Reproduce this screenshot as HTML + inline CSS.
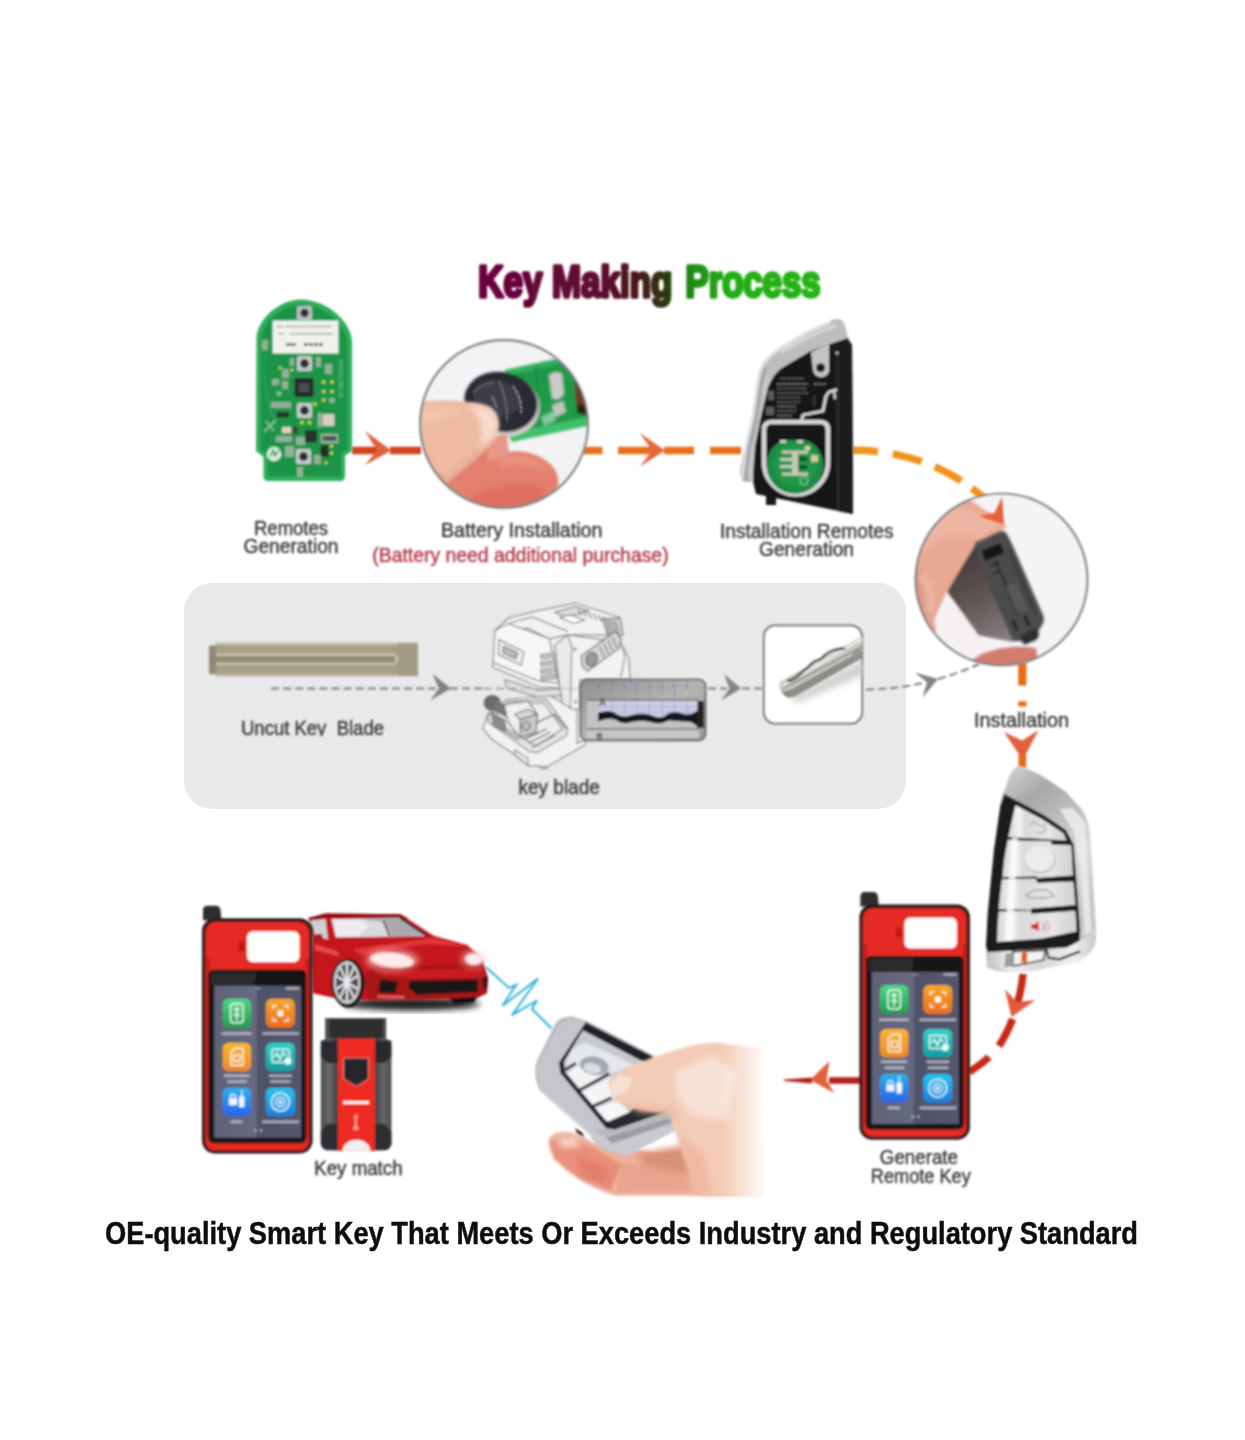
<!DOCTYPE html>
<html>
<head>
<meta charset="utf-8">
<title>Key Making Process</title>
<style>
html,body{margin:0;padding:0;background:#fff;}
body{width:1245px;height:1440px;overflow:hidden;font-family:"Liberation Sans",sans-serif;}
svg{display:block;}
text{font-family:"Liberation Sans",sans-serif;}
.lbl{font-size:19.5px;fill:#3c3c3c;stroke:#3c3c3c;stroke-width:0.45px;text-anchor:start;}
</style>
</head>
<body>
<svg width="1245" height="1440" viewBox="0 0 1245 1440">
<defs>
  <filter id="b1" x="-5%" y="-5%" width="110%" height="110%"><feGaussianBlur stdDeviation="0.85"/></filter>
  <filter id="b0" x="-5%" y="-5%" width="110%" height="110%"><feGaussianBlur stdDeviation="0.5"/></filter>
  <filter id="b2" x="-10%" y="-10%" width="120%" height="120%"><feGaussianBlur stdDeviation="1.5"/></filter>
  <filter id="b3" x="-20%" y="-20%" width="140%" height="140%"><feGaussianBlur stdDeviation="3"/></filter>
  <filter id="b6" x="-30%" y="-30%" width="160%" height="160%"><feGaussianBlur stdDeviation="6"/></filter>
  <linearGradient id="gKM" gradientUnits="userSpaceOnUse" x1="476" y1="0" x2="822" y2="0">
    <stop offset="0" stop-color="#6c0440"/><stop offset="0.36" stop-color="#5e0a30"/><stop offset="0.47" stop-color="#4a1a1c"/><stop offset="0.55" stop-color="#2c3a10"/><stop offset="0.62" stop-color="#1f8a14"/><stop offset="0.72" stop-color="#24ac12"/><stop offset="1" stop-color="#28b414"/>
  </linearGradient>
</defs>
<rect width="1245" height="1440" fill="#ffffff"/>

<!-- GRAYBOX -->
<rect x="184" y="583" width="722" height="226" rx="28" ry="28" fill="#e9e9e9"/>

<!-- TITLE -->
<g id="title" filter="url(#b1)" stroke-linejoin="round">
  <text x="478.300" y="297" font-size="44" font-weight="bold" fill="url(#gKM)" stroke="url(#gKM)" stroke-width="3.6" textLength="194" lengthAdjust="spacingAndGlyphs">Key Making</text>
  <text x="685.500" y="297" font-size="44" font-weight="bold" fill="url(#gKM)" stroke="url(#gKM)" stroke-width="3.6" textLength="135" lengthAdjust="spacingAndGlyphs">Process</text>
</g>

<!-- LABELS -->
<g id="labels" filter="url(#b1)">
  <clipPath id="cpU"><rect x="230" y="710" width="170" height="26"/></clipPath>
  <text class="lbl" x="254.0" y="534.6" textLength="74.0" lengthAdjust="spacingAndGlyphs">Remotes</text>
  <text class="lbl" x="243.5" y="553.0" textLength="95.0" lengthAdjust="spacingAndGlyphs">Generation</text>
  <text class="lbl" x="441.0" y="537.3" textLength="161.4" lengthAdjust="spacingAndGlyphs">Battery Installation</text>
  <text class="lbl" x="372.3" y="562.0" textLength="296.3" lengthAdjust="spacingAndGlyphs" style="fill:#b43c4a;stroke:#b43c4a">(Battery need additional purchase)</text>
  <text class="lbl" x="720.0" y="538.3" textLength="173.5" lengthAdjust="spacingAndGlyphs">Installation Remotes</text>
  <text class="lbl" x="759.0" y="556.4" textLength="95.0" lengthAdjust="spacingAndGlyphs">Generation</text>
  <text class="lbl" x="241.0" y="734.8" textLength="143.0" lengthAdjust="spacingAndGlyphs" clip-path="url(#cpU)" xml:space="preserve">Uncut Key  Blade</text>
  <text class="lbl" x="518.5" y="793.6" textLength="81.3" lengthAdjust="spacingAndGlyphs">key blade</text>
  <text class="lbl" x="974.0" y="727.0" textLength="95.0" lengthAdjust="spacingAndGlyphs">Installation</text>
  <text class="lbl" x="314.2" y="1174.5" textLength="88.4" lengthAdjust="spacingAndGlyphs">Key match</text>
  <text class="lbl" x="879.8" y="1164.2" textLength="78.2" lengthAdjust="spacingAndGlyphs">Generate</text>
  <text class="lbl" x="870.8" y="1183.3" textLength="100.0" lengthAdjust="spacingAndGlyphs">Remote Key</text>
</g>

<!-- BOTTOM -->
<g id="bottom" filter="url(#b0)">
  <text x="105" y="1243.500" font-size="31" font-weight="bold" fill="#0e0e0e" stroke="#0e0e0e" stroke-width="0.5" textLength="1033" lengthAdjust="spacingAndGlyphs">OE-quality Smart Key That Meets Or Exceeds Industry and Regulatory Standard</text>
</g>

<!-- ARROWS -->
<g id="arrows" filter="url(#b1)">
  <!-- a1: pcb -> circle1 -->
  <path d="M352 450.5H378M390 450.5H421" stroke="#d3421a" stroke-width="7.4" fill="none"/>
  <path d="M365 431L391.5 450.5L365 465L377 450.5Z" fill="#e2613a"/>
  <!-- a2: circle1 -> keyback -->
  <path d="M583 450.5H602.5M618 450.5H652M664 450.5H694M710 450.5H741" stroke="#e8701c" stroke-width="7.4" fill="none"/>
  <path d="M640 433L665 450.5L640 466.5L652 450.5Z" fill="#e6663a"/>
  <!-- a3: curve keyback -> circle2 -->
  <path d="M853 450.3C900 450 950 465 992 505" stroke="#f0931c" stroke-width="7.4" fill="none" stroke-dasharray="25 15 30 14 30 13 40 200"/>
  <!-- a5: vertical below circle2 -->
  <path d="M1022.3 662V685.5M1022.3 701.3V706.5" stroke="#ea6c16" stroke-width="8.2" fill="none"/>
  <path d="M1022.3 748V768" stroke="#e8661a" stroke-width="7.6" fill="none"/>
  <path d="M1004 732L1022.3 740.5L1038.6 730L1026.5 753L1018 753Z" fill="#e2603e"/>
  <!-- a6: dark red curve keyfront -> device -->
  <path d="M1023 974C1022 985 1020 994 1017.5 1003" stroke="#c62c16" stroke-width="7.4" fill="none"/>
  <path d="M1012.5 1019C1009 1029 1004 1038 999 1046" stroke="#c62c16" stroke-width="7.4" fill="none"/>
  <path d="M989 1057C984 1062 977 1067 969 1072" stroke="#c62c16" stroke-width="7.4" fill="none"/>
  <path d="M1005 989.5L1017 1002L1035.5 1000L1011.5 1017Z" fill="#e05a3c"/>
  <!-- a7: device -> left -->
  <path d="M862 1080.5H829" stroke="#b5241a" stroke-width="6.4" fill="none"/>
  <path d="M829.5 1061L810 1080L834.5 1093L826.5 1080.5Z" fill="#e2603e"/>
  <path d="M812 1077.5L784 1079.5L784 1081L812 1083.5Z" fill="#b5241a"/>
  <!-- gray dashes -->
  <g stroke="#7e7e7e" stroke-width="2.1" fill="none" stroke-dasharray="8 4.1">
    <path d="M271 688.5H436"/>
    <path d="M450 688.5H484"/>
    <path d="M708 688.5H727M742 688.5H763"/>
    <path d="M866 689.5C890 689 908 686.5 925 682.5"/>
    <path d="M938 679C952 675 966 670 979 664"/>
  </g>
  <g fill="#838383">
    <path d="M432.5 674L451 688.5L430 700.5L439 688.5Z"/>
    <path d="M724 674L741 688.5L721 700.5L729.5 688.5Z"/>
    <path d="M915 672.5L938 679L922.5 697.5L927 682.5Z"/>
  </g>
</g>
<!-- PCB -->
<g id="pcb" filter="url(#b1)">
  <path d="M256.5 338C257 322 276 300 301 299.5C328 300 351 322 352 341V451L345 455.5V476Q345 481 340 481H268Q263.5 481 263.5 476V457L256 451Z" fill="#2fae5c"/>
  <path d="M260.5 340C262 324 280 304.5 301 304C324 304.5 346 324 347.5 342V449L341 453V473Q341 476.5 337 476.5H271Q267.5 476.5 267.5 473V455L260.5 449.5Z" fill="#1b9446"/>
  <path d="M266 352C262 380 268 420 286 440" stroke="#2aa556" stroke-width="1.2" fill="none"/>
  <rect x="272.5" y="320.5" width="66" height="33" fill="#f1f1ee"/>
  <g stroke="#8a8a8a" stroke-width="1.6" fill="none">
    <path d="M277 326.5H283M286 326.5H331" stroke-dasharray="3 1.2"/>
    <path d="M279 334H284M290 334H333" stroke-dasharray="2.5 1"/>
    <path d="M286 344.5H296" stroke="#666" stroke-width="2.4"/>
    <path d="M304 344.5H324" stroke="#555" stroke-width="2.6" stroke-dasharray="4 1"/>
  </g>
  <g>
    <rect x="297" y="306" width="15" height="14" rx="1.5" fill="#b9bfc0"/><circle cx="304.5" cy="313" r="4.2" fill="#2b2d2e"/>
    <rect x="297" y="356" width="15" height="15" rx="1.5" fill="#c3c9c8"/><circle cx="304.5" cy="363.5" r="4.4" fill="#2b2d2e"/>
    <rect x="297" y="403" width="15" height="15" rx="1.5" fill="#c3c9c8"/><circle cx="304.5" cy="410.5" r="4.4" fill="#2b2d2e"/>
    <rect x="296" y="449" width="15" height="15" rx="1.5" fill="#c3c9c8"/><circle cx="303.5" cy="456.5" r="4.4" fill="#2b2d2e"/>
  </g>
  <rect x="294.5" y="378" width="19" height="19" rx="1" fill="#26292a"/>
  <rect x="299" y="383" width="10" height="9" fill="#4a4d4e"/>
  <rect x="305" y="430" width="12" height="12.5" fill="#26302c"/>
  <rect x="320.5" y="445.5" width="8" height="11.5" fill="#222a26"/>
  <rect x="277" y="412" width="12" height="5.5" fill="#28302c"/>
  <rect x="322.5" y="414" width="12" height="12" rx="1" fill="#d9ccc0"/>
  <rect x="318" y="413" width="4" height="14" fill="#9ab0a0"/>
  <rect x="282" y="427" width="9" height="6" fill="#e0d2c2"/>
  <rect x="293" y="426" width="5" height="8" fill="#3a463e"/>
  <rect x="321" y="434" width="17" height="9" fill="#9fb3a6"/>
  <rect x="322.5" y="436" width="14" height="5" fill="#4a5a50"/>
  <g fill="#8fb09a">
    <rect x="282" y="369" width="7" height="9"/><rect x="282" y="381" width="6" height="8"/>
    <rect x="272" y="379" width="7" height="6"/><rect x="290" y="358" width="4" height="8"/>
    <rect x="316" y="357" width="5" height="10"/><rect x="325" y="364" width="7" height="10"/>
    <rect x="271" y="402" width="20" height="6"/><rect x="276" y="436" width="16" height="6"/>
    <rect x="285" y="446" width="9" height="11"/><rect x="296" y="437" width="9" height="8"/>
    <rect x="297" y="467" width="6" height="10"/><rect x="314" y="455" width="7" height="9"/>
    <rect x="262" y="340" width="6" height="10"/>
  </g>
  <g fill="#d8dc52">
    <circle cx="323.7" cy="382" r="1.7"/><circle cx="332" cy="382" r="1.7"/>
    <circle cx="323.7" cy="391.5" r="1.7"/><circle cx="332" cy="391.5" r="1.7"/>
    <circle cx="323.7" cy="400" r="1.7"/><circle cx="315" cy="404" r="1.7"/>
    <circle cx="302" cy="422.5" r="1.7"/><circle cx="309.5" cy="422.5" r="1.7"/>
    <circle cx="331.5" cy="446" r="1.6"/><circle cx="331.5" cy="453" r="1.6"/><circle cx="326" cy="463" r="1.6"/>
    <circle cx="292" cy="370" r="1.4"/><circle cx="280" cy="368" r="1.4"/>
  </g>
  <circle cx="332" cy="400.5" r="3" fill="#7fb894"/>
  <circle cx="279" cy="393.5" r="2.6" fill="#7fb894"/>
  <circle cx="274" cy="454" r="7.2" fill="#dff0e6"/>
  <path d="M270 457L273 450L275 456L278.5 450" stroke="#2c9c54" stroke-width="1.6" fill="none"/>
  <path d="M264 432L276 420M266 421L274 431" stroke="#7fc09a" stroke-width="2" fill="none"/>
  <text x="0" y="0" font-size="5" fill="#8cd0a4" transform="translate(339,360) rotate(90)">DU0101_BM_V2</text>
</g>
<!-- CIRCLE1 -->
<clipPath id="cp1"><circle cx="504" cy="424" r="84"/></clipPath>
<g id="circle1">
  <circle cx="504" cy="424" r="84" fill="#f3f3f5"/>
  <g clip-path="url(#cp1)">
    <g filter="url(#b2)">
      <!-- green board -->
      <path d="M505 370L556 359L592 372L592 424L512 441L506 432Z" fill="#1f9a48"/>
      <path d="M510 433L592 416V425L512 442Z" fill="#3fbf6a"/>
      <path d="M505 371L556 360L559 364L508 375Z" fill="#2fb45c"/>
      <path d="M536 366L538 420" stroke="#178a3c" stroke-width="2" fill="none"/>
      <!-- silver clip -->
      <path d="M549 375Q556 370 562 374L564 394Q558 402 552 398Z" fill="#c9cbc9"/>
      <path d="M552 405L563 401L566 412L555 417Z" fill="#bfc6c0"/>
      <path d="M541 417L553 411L556 420L544 426Z" fill="#9fd0b0" opacity="0.8"/>
      <!-- brown comp -->
      <path d="M574 380L590 384V416L577 412Z" fill="#6e3424"/>
      <path d="M577 404L590 408V416L577 413Z" fill="#2a1c18"/>
      <!-- battery -->
      <ellipse cx="502.5" cy="405" rx="37.5" ry="31.5" transform="rotate(12 502.5 405)" fill="#d0d0d0"/>
      <ellipse cx="501" cy="402" rx="37" ry="30" transform="rotate(12 501 402)" fill="#2c2c33"/>
      <ellipse cx="497" cy="398" rx="24" ry="17" transform="rotate(18 497 398)" fill="#3d3d46"/>
    </g>
    <g filter="url(#b1)" fill="none" stroke="#8c8c98" stroke-width="1.6">
      <path d="M499 381C504 392 508 408 507 422" stroke-dasharray="3 1.5"/>
      <path d="M513 386C519 394 522 404 521 413" stroke-dasharray="4 1.2" stroke="#a0a0aa" stroke-width="2"/>
      <path d="M474 392C480 386 488 383 495 382" stroke-dasharray="2 2"/>
      <path d="M492 396L497 408" />
    </g>
    <g filter="url(#b2)">
      <!-- lower finger -->
      <path d="M428 486C452 466 476 444 500 444C506 448 508 450 510 452C530 449 552 460 557 474C562 492 552 512 520 520L428 520Z" fill="#e4806f"/>
      <path d="M488 436L507 434L509 454L488 462Z" fill="#e89886"/>
    </g>
    <g filter="url(#b3)">
      <path d="M470 496C495 484 528 480 546 488C544 506 520 514 480 516Z" fill="#df6e62"/>
      <path d="M500 456C520 452 544 460 552 472C540 466 520 462 500 466Z" fill="#ea9484"/>
    </g>
    <g filter="url(#b2)">
      <!-- thumb -->
      <path d="M414 402C440 399 476 400 490 407C500 414 501 428 495 438C484 454 466 468 448 482C438 488 426 482 418 474L410 440Z" fill="#eebaa2"/>
    </g>
    <g filter="url(#b3)">
      <path d="M468 405C488 405 500 414 497 428C494 438 486 446 478 449C485 436 483 417 468 405Z" fill="#f7ddd0"/>
      <path d="M420 410C440 406 458 408 468 414C452 414 434 418 420 426Z" fill="#f2c6b0"/>
      <path d="M416 444C426 464 438 476 450 479C440 487 426 484 418 472Z" fill="#e6a08a"/>
      <path d="M448 480C466 466 482 452 492 440" stroke="#d88a76" stroke-width="2" fill="none"/>
    </g>
  </g>
  <circle cx="504" cy="424" r="84" fill="none" stroke="#8d8d8f" stroke-width="2.4" filter="url(#b1)"/>
</g>
<!-- KEYBACK -->
<g id="keyback">
  <defs>
    <linearGradient id="gSil" x1="0" y1="0" x2="1" y2="0"><stop offset="0" stop-color="#9c9c9c"/><stop offset="0.35" stop-color="#e4e4e4"/><stop offset="0.7" stop-color="#c4c4c4"/><stop offset="1" stop-color="#a8a8a8"/></linearGradient>
  </defs>
  <g filter="url(#b1)">
    <!-- silver outer -->
    <path d="M840 319.5Q845 321 846.5 333L852 345V513.5L756 493.5L753 482L742.5 481Q740 476 740.5 470L745 446L752 416L756 388Q758 370 764 361Q772 352 781 346.5L807.5 331L831 320.5Q836 318.5 840 319.5Z" fill="#c8c8c8"/>
    <path d="M742.5 481Q740 476 740.5 470L745 446L752 416L756 388Q758 370 764 361L770 366Q764 376 762 392L758 420L751 450L748 474L750 482Z" fill="#a8a8a8"/>
    <path d="M764 361Q772 352 781 346.5L807.5 331L831 320.5Q836 318.5 840 319.5Q845 321 846.5 333L847 338L810.5 351L781 368.5L770 380Z" fill="#bdbdbd"/>
    <path d="M742 479L746 447L753 417L757 389Q759 371 765 362Q772 353.500 781.500 348L808 332.500L831 322" stroke="#e2e2e2" stroke-width="2.600" fill="none"/>
    <path d="M781 352L808 337L836 325.500" stroke="#d4d4d4" stroke-width="4" fill="none"/>
    <!-- black body -->
    <path d="M847.5 338L852 345L853 514L756 494L753 482L753 474L755 446L761 416L768 387.5Q772 376 781 368.5L810.5 351Z" fill="#141414"/>
    <path d="M832 346L847.5 338L852 345L853 514L838 511Z" fill="#1c1c1c"/>
    <path d="M838 350V510" stroke="#2a2a2a" stroke-width="2.5"/>
    <rect x="766" y="494" width="10" height="11" fill="#181818"/>
    <!-- silver clip -->
    <path d="M811 352L829 344V372Q826 378 820 377Q814 376 813 370Z" fill="#c4c4c6"/>
    <circle cx="820.6" cy="367.8" r="4.6" fill="#1b1b1b"/>
    <circle cx="837" cy="353" r="1.6" fill="#c8c8c8"/>
    <!-- wire -->
    <path d="M837 389.5L829 392L826 396L823 411L805 414.5Q802 415 802 419V424" stroke="#d9d9dc" stroke-width="2.8" fill="none" stroke-linejoin="round"/>
    <path d="M834 391L835 399" stroke="#d9d9dc" stroke-width="2.2" fill="none"/>
    <!-- ring -->
    <path d="M764 430Q764 422 772 422H820Q828 422 828 430V462.5A32 32 0 0 1 764 462.5Z" fill="none" stroke="#d6d6d8" stroke-width="4.6"/>
    <!-- green pcb -->
    <path d="M771 450Q777 441 786 440H804Q813 441 819 450A28.5 28.5 0 1 1 771 450Z" fill="#1e8c44"/>
    <circle cx="795" cy="464.5" r="22" fill="#22964a"/>
    <path d="M780 440h6v3h-6zM797 440h6v3h-6z" fill="#cfcfcf"/>
    <g fill="#c8c6b4">
      <rect x="792" y="452" width="6" height="23"/>
      <rect x="782" y="450.5" width="26" height="3.2"/>
      <rect x="782" y="472.5" width="26" height="3.2"/>
      <rect x="780" y="458" width="13" height="3"/><rect x="780" y="465" width="13" height="3"/>
    </g>
    <g fill="#12502a"><rect x="799" y="457" width="8" height="4"/><rect x="799" y="465" width="8" height="4"/></g>
    <rect x="811" y="455" width="7" height="7" fill="#d2c896"/>
    <rect x="805" y="446" width="5" height="4" fill="#d2d8a0"/>
    <circle cx="804" cy="481" r="4" fill="none" stroke="#8fd0a6" stroke-width="1"/>
    <!-- text lines -->
    <g stroke="#6a6a6a" stroke-width="1.6" fill="none">
      <path d="M780 378.5H804" stroke-dasharray="3 0.8"/>
      <path d="M777 384H808M814 384H826" stroke="#808080" stroke-dasharray="4 1"/>
      <path d="M777 388.5H807" stroke-dasharray="2 0.7"/>
      <path d="M777 393H808" stroke-dasharray="3 1"/>
      <path d="M777 397.5H800" stroke-dasharray="2.5 1"/>
      <path d="M777 402H800" stroke-dasharray="3 1"/>
      <path d="M777 406.5H796"/>
      <path d="M777 411H796" stroke-dasharray="3 1"/>
      <path d="M777 415.5H792"/>
      <path d="M814 396V406" stroke="#555" stroke-dasharray="2 1"/>
    </g>
    <g fill="#5c5c5c"><rect x="768" y="391" width="6" height="9"/><rect x="766" y="407" width="8" height="8"/></g>
  </g>
</g>
<!-- CIRCLE2 -->
<clipPath id="cp2"><circle cx="1001.5" cy="579.5" r="86"/></clipPath>
<g id="circle2">
  <defs>
    <linearGradient id="gSide" gradientUnits="userSpaceOnUse" x1="960" y1="560" x2="1000" y2="645"><stop offset="0" stop-color="#4a3c3c"/><stop offset="0.5" stop-color="#635858"/><stop offset="1" stop-color="#8a8084"/></linearGradient>
  </defs>
  <circle cx="1001.5" cy="579.5" r="86" fill="#f5f3f5"/>
  <g clip-path="url(#cp2)">
    <g filter="url(#b2)">
      <!-- hand -->
      <path d="M905 490L958 490C975 505 995 515 1007 527L976 547L947 591L935 618L936 632L905 640Z" fill="#e8a892"/>
      <!-- tissue -->
      <path d="M934 620L950 600L985 640L975 658L940 640Z" fill="#f6f1f1"/>
      <!-- bottom finger -->
      <path d="M972 660C985 650 1010 644 1036 648L1040 680L965 680Z" fill="#d27c6e"/>
      <!-- key side -->
      <path d="M975 545L947 591.5L978.5 635.5L1014 642L1000 600Z" fill="url(#gSide)"/>
      <!-- key front face -->
      <path d="M974.5 546Q974 542 978 540L1000 531Q1005 530 1008 536L1012 544L1043.5 616Q1045 622 1041 627L1038 631Q1036 640 1028 642L1018 641L1013 641L980 565Z" fill="#4b4b4d"/>
      <path d="M1020 636L1036 628Q1042 634 1036 640L1024 645Z" fill="#2e2e30"/>
    </g>
    <g filter="url(#b3)">
      <path d="M915 520C940 500 975 505 1000 524L980 540C960 530 935 535 915 560Z" fill="#eeb6a2"/>
      <path d="M910 560C925 570 932 590 930 615L910 640Z" fill="#e19884"/>
      <path d="M920 575C930 585 932 600 928 612" stroke="#f2c8b8" stroke-width="4" fill="none"/>
    </g>
    <g filter="url(#b1)">
      <path d="M982 551L1000.500 543.500L1003.500 553L985.500 560.500Z" fill="#121214"/>
      <path d="M995 560L1004 580L1012 600L1019 616" stroke="#303032" stroke-width="2" fill="none"/>
      <path d="M1008 548L1018 572L1030 600L1036 614" stroke="#343436" stroke-width="1.6" fill="none"/>
      <path d="M1006 586L1016 583L1028 610L1018 614Z" fill="#58585a"/>
      <path d="M990 566L999 563M993 574L1001 571" stroke="#2a2a2c" stroke-width="1.8"/>
      <path d="M1013 620L1017 630M1025 616L1029 626" stroke="#222" stroke-width="2.6"/>
    </g>
  </g>
  <circle cx="1001.5" cy="579.5" r="86" fill="none" stroke="#8a8a8c" stroke-width="2.2" filter="url(#b1)"/>
  <path d="M1002 497L994.500 513L979 516L1004 524.500Z" fill="#e6603a" filter="url(#b1)"/>
</g>
<!-- BLADE -->
<g id="blade" filter="url(#b1)">
  <defs><linearGradient id="gBl" x1="0" y1="0" x2="0" y2="1"><stop offset="0" stop-color="#c9c3b2"/><stop offset="0.12" stop-color="#a9a18a"/><stop offset="0.5" stop-color="#9e9680"/><stop offset="0.88" stop-color="#a8a08a"/><stop offset="1" stop-color="#c4bdac"/></linearGradient></defs>
  <path d="M216 642.500H418V676.500H216V674.500H212Q209 674.500 209 671V648.500Q209 645 212 645H216Z" fill="url(#gBl)"/>
  <rect x="209" y="646" width="7" height="28" rx="2" fill="#8f8873"/>
  <path d="M216 654.500H395" stroke="#d2ccb9" stroke-width="2"/>
  <path d="M216 663.800H395" stroke="#cfc9b6" stroke-width="2"/>
  <rect x="216" y="656" width="179" height="6.500" fill="#948c76"/>
  <path d="M395 654L400 659L395 664.500Z" fill="#c8c2b0"/>
  <rect x="398" y="643" width="20" height="33" fill="#a39b85"/>
</g>
<!-- MACHINE -->
<g id="machine" filter="url(#b1)">
<g stroke="#868686" stroke-width="1.2" fill="#f2f2f2" stroke-linejoin="round">
<path d="M483.0 728.9L487.6 714.3L506.8 699.7L549.2 695.7L577.1 710.3L577.1 743.4L586.3 739.5L585.0 744.8L547.2 766.6L528.0 765.3L514.8 754.7L492.2 739.5Z"/>
<path d="M514.8 754.7L514.8 750.1L528.0 758.0L528.0 765.3Z" fill="#ececec"/>
<path d="M539.9 766.6L541.3 768.6L547.2 768.4L547.9 766.2" fill="none"/>
<path d="M487.6 716.3L508.1 701.7L546.6 699.7L567.8 728.9L566.5 735.5L537.3 752.7L529.3 751.4L488.3 722.2Z" fill="#e4e4e4"/>
<path d="M492.2 716.9L509.5 705.0L543.9 703.0L562.5 728.9L536.0 746.1L493.6 720.9Z" fill="#ededed"/>
<path d="M549.2 638.7L567.8 634.8L620.8 642.7L628.7 658.6L630.1 679.8L579.7 679.8L579.7 709.0L570.4 709.0L559.8 687.8Z"/>
<path d="M620.8 677.2L624.8 657.3L622.1 645.4" fill="none"/>
<path d="M567.8 634.8L571.8 646.7L570.4 707.7L562.5 703.7L559.8 687.8L554.5 645.4Z" fill="#e9e9e9"/>
<path d="M504.8 679.8L538.6 690.4L559.8 688.4L561.1 695.7L537.3 697.1L506.8 687.8Z" fill="#dedede"/>
<path d="M494.9 630.8L508.1 618.2L532.0 612.2L575.7 603.2L619.5 617.5L622.8 634.8L612.8 634.8L567.8 634.8L549.2 638.7L528.0 628.1Z"/>
<path d="M554.5 612.2L575.7 606.3L589.0 610.9L566.5 617.5Z" fill="#dadada"/>
<path d="M559.8 617.5L570.4 614.9L585.0 620.2L573.1 623.5Z" fill="#fbfbfb"/>
<path d="M494.9 630.8L508.1 623.5L549.2 638.7L559.8 687.8L538.6 686.5L492.9 667.2Z" fill="#f6f6f6"/>
<path d="M492.9 662.6L538.6 681.1L558.5 683.1" fill="none"/>
<path d="M508.1 623.5L532.0 616.9L567.8 631.4" fill="none"/>
<path d="M498.9 639.4L524.0 652.0L521.4 665.2L498.2 654.6Z" fill="#ececec"/>
<path d="M503.5 646.0L517.4 652.7L516.1 658.6L502.8 652.7Z" fill="#bcbcbc" stroke="#777"/>
</g>
<g fill="#c2c2c2" stroke="#808080" stroke-width="0.9">
<path d="M540.6 654.6L555.8 652.7L556.5 657.0L541.0 659.0Z"/>
<path d="M540.6 661.9L555.8 659.9L556.5 664.3L541.0 666.3Z"/>
<path d="M540.6 669.2L555.8 667.2L556.5 671.6L541.0 673.6Z"/>
<path d="M540.6 676.1L555.8 674.1L556.5 678.5L541.0 680.5Z"/>
</g>
<g stroke="#7a7a7a" stroke-width="1.3" fill="none">
<path d="M578.4 608.9L581.3 615.5"/>
<path d="M583.4 610.4L586.3 617.0"/>
<path d="M588.5 611.8L591.4 618.5"/>
<path d="M593.5 613.3L596.4 619.9"/>
<path d="M598.5 614.7L601.4 621.4"/>
<path d="M603.6 616.2L606.5 622.8"/>
<path d="M608.6 617.7L611.5 624.3"/>
<path d="M613.6 619.1L616.6 625.7"/>
<path d="M618.7 620.6L621.6 627.2"/>
</g>
<path d="M602.2 618.9L620.1 618.2L622.8 634.8L608.9 638.7Z" fill="#d2d2d2" stroke="#7a7a7a" stroke-width="1.2"/>
<g stroke="#707070" stroke-width="1.2" fill="none"><path d="M605.6 619.5L610.2 637.4"/><path d="M608.9 619.8L613.1 637.0"/><path d="M612.2 620.0L616.0 636.6"/><path d="M615.5 620.3L618.9 636.2"/></g>
<path d="M581.0 656.0L615.5 631.4L620.8 638.7L619.5 648.0L587.7 671.2L582.4 666.6Z" fill="#d6d6d6" stroke="#777" stroke-width="1.3"/>
<g stroke="#777" stroke-width="1.1" fill="none"><path d="M599.6 646.0L604.2 657.3"/><path d="M603.8 643.1L608.5 654.1"/><path d="M608.1 640.2L612.7 650.9"/><path d="M612.3 637.3L616.9 647.8"/></g>
<ellipse cx="591.6" cy="659.3" rx="5.6" ry="7" fill="#9a9a9a" stroke="#666" stroke-width="1.2" transform="rotate(20 591.6 659.3)"/>
<circle cx="575.1" cy="649.1" r="1.6" fill="#777"/>
<circle cx="575.7" cy="701.7" r="1.6" fill="#888"/>
<ellipse cx="492.2" cy="703.0" rx="8.5" ry="8" fill="#6c6c6c"/>
<path d="M494.9 699.7L509.5 707.7L508.1 718.3L494.9 711.6Z" fill="#777"/>
<path d="M490.9 711.6L505.5 719.6L506.8 732.8L492.2 726.2Z" fill="#8a8a8a"/>
<path d="M504.2 705.0L528.0 701.0L537.3 714.3L536.0 732.8L520.1 737.5L508.1 722.2Z" fill="#efefef" stroke="#6e6e6e" stroke-width="1.2"/>
<path d="M514.8 714.3L528.0 709.0L537.3 714.3L520.1 719.6Z" fill="#d8d8d8" stroke="#6e6e6e" stroke-width="1.1"/>
<path d="M520.1 719.6L537.3 714.3L536.0 732.8L520.1 737.5Z" fill="#c9c9c9" stroke="#6e6e6e" stroke-width="1.1"/>
<circle cx="526.0" cy="726.2" r="4.2" fill="#bdbdbd" stroke="#666" stroke-width="1.2"/>
<g stroke="#7c7c7c" stroke-width="1.5" fill="none">
<path d="M524.0 739.5L546.6 728.9"/>
<path d="M528.0 743.4L550.5 732.2"/>
<path d="M532.0 747.4L554.5 735.5"/>
<path d="M537.3 722.2L554.5 714.3L566.5 728.9"/>
<path d="M501.5 728.9L518.7 739.5"/>
</g>
<path d="M484 688.7H520" stroke="#8a8a8a" stroke-width="1.8" stroke-dasharray="8 4.1" opacity="0.8"/>
<path d="M520 688.7H580" stroke="#b4b4b4" stroke-width="1.2" opacity="0.8"/>
</g>
<g id="panel" filter="url(#b1)">
  <defs>
    <linearGradient id="gPan" x1="0" y1="0" x2="1" y2="1"><stop offset="0" stop-color="#8e8e8e"/><stop offset="0.5" stop-color="#b4b4b4"/><stop offset="1" stop-color="#9c9c9c"/></linearGradient>
  </defs>
  <rect x="580.500" y="679.500" width="125" height="61" rx="7" fill="url(#gPan)" stroke="#555" stroke-width="1.6"/>
  <rect x="587" y="700" width="112" height="29.500" fill="#c2c2c4"/>
  <rect x="598.500" y="700.500" width="100" height="17" fill="#cdcde6"/>
  <rect x="587" y="729" width="112" height="9" fill="#c6c6c6"/>
  <g stroke="#9d9dc8" stroke-width="0.8" opacity="0.8"><path d="M612 684V722M624.500 684V722M637 684V722M649.500 684V722M662 684V722M674.500 684V722M687 684V722"/><path d="M598 707H698M598 712H698"/></g>
  <path d="M587 700H699M587 729H699" stroke="#444" stroke-width="1.2"/>
  <path d="M598 713C604 711 610 710.500 614 712.500C619 716 624 717.500 630 715.500C638 713 646 713 652 715.500C658 718 662 718.500 666 715C670 711.500 676 711.500 682 713.500C688 715.500 694 714 698 710V728C694 722 690 721.500 684 721.500C676 721.500 670 719.500 666 721.500C662 724 656 724 650 722C644 720.500 636 720.500 630 722.500C624 724 620 723 616 720C611 717.500 604 719 598 721.500Z" fill="#17161c"/>
  <rect x="697.500" y="701" width="6.500" height="27" fill="#2a2024"/>
  <g font-size="4.500" fill="#5a62d8" font-weight="bold" opacity="0.7"><text x="598" y="687.500">8</text><text x="610.500" y="687.500">7</text><text x="623" y="687.500">6</text><text x="635.500" y="687.500">5</text><text x="648" y="687.500">4</text><text x="660.500" y="687.500">3</text><text x="673" y="687.500">2</text><text x="685.500" y="687.500">8</text></g>
  <g font-size="4.500" fill="#d86a5a" font-weight="bold" opacity="0.7"><text x="598" y="694.500">3</text><text x="610.500" y="694.500">3</text><text x="623" y="694.500">1</text><text x="635.500" y="694.500">2</text><text x="648" y="694.500">2</text><text x="660.500" y="694.500">1</text><text x="673" y="694.500">3</text></g>
  <text x="685" y="695" font-size="5.500" fill="#e4e84a" font-weight="bold">2</text>
  <text x="599" y="705.500" font-size="10" fill="#111">A</text>
  <text x="596.500" y="739" font-size="8.500" fill="#111" font-weight="bold">B</text>
  <path d="M589 700H594M589 729H594" stroke="#c44" stroke-width="1"/>
</g>
<!-- WHITEBOX -->
<g id="whitebox" filter="url(#b1)">
  <clipPath id="cpw"><rect x="764" y="625.500" width="98" height="98" rx="11"/></clipPath>
  <rect x="764" y="625.500" width="98" height="98" rx="11" fill="#ffffff" stroke="#6f6f6f" stroke-width="2"/>
  <g clip-path="url(#cpw)">
    <path d="M788 699L866 658L870 672L800 702Z" fill="#d0d0d0" filter="url(#b3)"/>
    <path d="M780 682Q778 687 781 692L786 697Q790 699 796 696L866 656V634L848 644L790 676Z" fill="#c8c6c0"/>
    <path d="M781 692L786 697Q790 699 796 696L866 656V648L790 690Z" fill="#8e8c86"/>
    <path d="M782 686L846 648L864 638" stroke="#e9e8e4" stroke-width="3" fill="none"/>
    <path d="M783 688.500L866 644.500" stroke="#77756f" stroke-width="1.3" fill="none"/>
    <path d="M787 681C792 680.500 796 678 800 674C804 670 808 668.500 811 664C814 660 818 661 822 658C826 653 830 651.500 834 650C838 649 842 648.500 845 648" stroke="#4b4944" stroke-width="2.600" fill="none"/>
    <path d="M852 652L860 648L861 656L854 660Z" fill="#9a9892"/>
  </g>
</g>
<!-- KEYFRONT -->
<g id="keyfront" filter="url(#b1)">
  <defs>
    <linearGradient id="gKF" gradientUnits="userSpaceOnUse" x1="1000" y1="770" x2="1095" y2="900"><stop offset="0" stop-color="#d6d6d6"/><stop offset="0.25" stop-color="#a8a8a8"/><stop offset="0.45" stop-color="#bcbcbc"/><stop offset="0.7" stop-color="#dcdcdc"/><stop offset="1" stop-color="#c6c6c6"/></linearGradient>
    <linearGradient id="gBtn" x1="0" y1="0" x2="1" y2="0"><stop offset="0" stop-color="#d4d4d4"/><stop offset="0.18" stop-color="#f4f4f4"/><stop offset="0.3" stop-color="#dadada"/><stop offset="0.7" stop-color="#e6e6e6"/><stop offset="1" stop-color="#cfcfcf"/></linearGradient>
    <linearGradient id="gBot" x1="0" y1="0" x2="1" y2="0"><stop offset="0" stop-color="#bdbdbd"/><stop offset="0.2" stop-color="#efefef"/><stop offset="0.5" stop-color="#d8d8d8"/><stop offset="0.8" stop-color="#f0f0f0"/><stop offset="1" stop-color="#c8c8c8"/></linearGradient>
  </defs>
<path d="M1005.9 786.9 Q1009.9 769.4 1017.9 766.2 Q1022.7 765.4 1041.8 775.8 L1065.8 791.7 L1081.7 809.3 Q1088.9 818.9 1090.5 838.0 L1096.1 930.6 Q1096.1 946.6 1088.1 954.6 L1078.6 961.7 L1033.9 970.5 Q995.5 973.7 986.8 967.3 L986.0 951.4 L987.6 914.6 L993.9 850.8 Q1000.3 802.9 1001.9 796.5 L1005.9 786.9 Z" fill="url(#gKF)"/>
<path d="M1072.2 807.7L1084.9 822.0L1091.3 930.6L1084.9 935.4L1080.2 866.7L1073.8 831.6L1059.4 809.3Z" fill="#ededed" opacity="0.8"/>
<path d="M1004.3 794.1L1017.9 801.3L1045.0 815.7L1065.8 830.0L1073.8 844.4L1080.2 930.6L1079.4 943.4L1065.8 947.4L987.6 952.2L986.0 946.6L987.6 914.6L993.9 850.8L1000.3 806.1Z" fill="#1b1b1b"/>
<path d="M1015.5 805.3L1041.8 818.9L1063.4 833.2L1066.6 840.4L1008.3 837.2L1012.3 818.9Z" fill="url(#gBtn)"/>
<path d="M1007.8 839.9L1051.4 841.2L1051.4 844.4L1071.4 845.2L1073.0 875.5L1037.0 877.9L1037.0 876.6L1002.4 877.1L1004.3 858.8Z" fill="url(#gBtn)"/>
<path d="M1001.9 879.2L1036.3 878.7L1037.0 882.7L1073.4 881.4L1075.4 905.1L1031.5 908.6L1031.1 909.9L998.7 909.1L1000.0 895.5Z" fill="url(#gBtn)"/>
<path d="M998.7 911.4L1030.7 910.7L1031.5 913.8L1075.4 910.7L1076.6 931.4L1041.8 938.6L997.1 942.1L997.5 927.4Z" fill="url(#gBtn)"/>
<path d="M1011.8 838.0L1017.9 838.0L1012.3 940.2L1004.3 941.0Z" fill="#fafafa" opacity="0.85"/>
<ellipse cx="1040.2" cy="859.6" rx="15.5" ry="14" fill="#c4c4c4"/>
<ellipse cx="1039.6" cy="858.4" rx="14.5" ry="13" fill="#ececec"/>
<path d="M1029.9 825.2L1033.9 821.3L1038.6 825.2L1045.0 825.2L1045.0 831.6L1037.0 833.2" stroke="#b0b0b0" stroke-width="1.4" fill="none"/>
<path d="M1025.1 895.5L1030.7 892.3L1037.0 889.9L1046.6 889.9L1051.4 893.1L1053.8 896.3L1045.0 897.9L1030.7 897.9L1025.1 895.5" stroke="#a8a8a8" stroke-width="1.5" fill="none"/>
<path d="M1031.0 924.2L1034.7 924.2L1038.6 921.0L1038.6 931.4L1034.7 928.7L1031.0 928.7Z" fill="#e0202a"/>
<path d="M1042.6 922.6L1045.0 926.6L1042.6 930.6" stroke="#e07070" stroke-width="1.3" fill="none"/>
<path d="M1046.3 921.0L1049.5 926.6L1046.3 932.2" stroke="#e09090" stroke-width="1.2" fill="none"/>
<path d="M986.3 952.6 L1065.8 948.2 L1095.3 932.2 Q1097.7 946.6 1088.1 954.6 L1078.6 961.7 L1033.9 970.5 Q989.2 975.3 986.3 952.6 Z" fill="url(#gBot)"/>
<path d="M1081.7 933.8L1096.1 931.4" stroke="#e4e4e4" stroke-width="1.5" fill="none"/>
<path d="M1012.8 951.7L1045.0 950.1L1043.8 960.1L1013.1 966.0Z" fill="#f2f2f2" stroke="#3a3a3a" stroke-width="1.6"/>
<path d="M1046.6 949.0L1048.2 957.7L1059.4 959.3L1080.2 951.4" stroke="#2c2c2c" stroke-width="2.2" fill="none"/>
<path d="M1024.6 952.3L1024.0 962.5" stroke="#e0581c" stroke-width="5.5" fill="none"/>
<path d="M1004.3 967.3L1013.9 966.0L1013.1 953.0L1005.9 953.4Z" fill="#9a9a9a"/>
</g>
<!-- DEVICE_R -->
<defs>
  <linearGradient id="gScr" x1="0" y1="0" x2="1" y2="0"><stop offset="0" stop-color="#5f6278"/><stop offset="0.47" stop-color="#666a80"/><stop offset="0.5" stop-color="#4f5268"/><stop offset="1" stop-color="#55586e"/></linearGradient>
  <linearGradient id="gGr" x1="0" y1="0" x2="0" y2="1"><stop offset="0" stop-color="#4fd88c"/><stop offset="1" stop-color="#1f9c4e"/></linearGradient>
  <linearGradient id="gOr" x1="0" y1="0" x2="0" y2="1"><stop offset="0" stop-color="#f8a62a"/><stop offset="1" stop-color="#ea6e18"/></linearGradient>
  <linearGradient id="gOy" x1="0" y1="0" x2="0" y2="1"><stop offset="0" stop-color="#fbb52c"/><stop offset="1" stop-color="#f08a22"/></linearGradient>
  <linearGradient id="gTe" x1="0" y1="0" x2="0" y2="1"><stop offset="0" stop-color="#2fd0cc"/><stop offset="1" stop-color="#159c9e"/></linearGradient>
  <linearGradient id="gBu" x1="0" y1="0" x2="0" y2="1"><stop offset="0" stop-color="#28b4f0"/><stop offset="1" stop-color="#2a62e6"/></linearGradient>
  <linearGradient id="gCy" x1="0" y1="0" x2="0" y2="1"><stop offset="0" stop-color="#22c4ee"/><stop offset="1" stop-color="#1a7ede"/></linearGradient>
  <g id="dev">
    <path d="M1 2V-8Q1 -12.500 5.500 -12.500H14Q18 -12.500 18.500 -8L19.500 2Z" fill="#2f2d2f"/>
    <rect x="0" y="0" width="110.600" height="235.400" rx="13" fill="#2a1c1c"/>
    <rect x="3.300" y="3.800" width="104" height="228.600" rx="10" fill="#e42a22"/>
    <rect x="4.500" y="40" width="3" height="180" fill="#c41e1a"/>
    <rect x="103.500" y="40" width="3" height="180" fill="#c41e1a"/>
    <rect x="45" y="13.100" width="52.500" height="31" rx="6" fill="#fdfdfd"/>
    <rect x="36.600" y="23.400" width="5.600" height="9.400" rx="1.500" fill="#c4140f"/>
    <rect x="6.500" y="51.600" width="97.600" height="173.400" rx="5" fill="#131313"/>
    <path d="M9 54H55L52 67H9Z" fill="#2b2b2b"/>
    <rect x="12.200" y="67.500" width="87.200" height="152" fill="url(#gScr)"/>
    <rect x="53" y="69.500" width="6" height="1.400" fill="#aab" opacity="0.7"/>
    <rect x="84" y="69.300" width="13" height="1.800" fill="#dde" opacity="0.8"/>
    <rect x="20.600" y="80.600" width="28.400" height="29" rx="6" fill="url(#gGr)"/>
    <rect x="63.800" y="80.600" width="29" height="29" rx="6" fill="url(#gOr)"/>
    <rect x="20.600" y="124.600" width="28.400" height="28.400" rx="6" fill="url(#gOy)"/>
    <rect x="63.800" y="124.600" width="29" height="28.400" rx="6" fill="url(#gTe)"/>
    <rect x="20.600" y="169.600" width="28.400" height="28.400" rx="6" fill="url(#gBu)"/>
    <rect x="63.800" y="169.600" width="29" height="28.400" rx="6" fill="url(#gCy)"/>
    <g fill="none" stroke="#f4fff8" stroke-width="1.500" opacity="0.92">
      <rect x="28.500" y="85.500" width="12.500" height="19" rx="3"/><path d="M31.500 91H38M31.500 96.500H38M34.800 88V102"/>
      <path d="M71 91V87.500H75M86 91V87.500H82M71 99V102.500H75M86 99V102.500H82"/>
      <path d="M29 134L33 130H41V147H29Z"/><rect x="32" y="137" width="6" height="6"/>
      <rect x="70" y="131" width="17" height="13" rx="1.500"/><path d="M72 139L75 135L78 141L81 134L84 138"/>
      <circle cx="78.300" cy="183.800" r="9"/><circle cx="78.300" cy="183.800" r="4.500"/>
    </g>
    <rect x="75.500" y="92" width="6" height="6" rx="1" fill="#fff5e0"/>
    <circle cx="86" cy="143" r="3.400" fill="#e8ffff"/>
    <rect x="27" y="180" width="8" height="7" rx="1" fill="#f0f8ff"/><path d="M28.500 180V177.500Q31 175 33.500 177.500V180" stroke="#f0f8ff" stroke-width="1.300" fill="none"/>
    <rect x="37" y="178" width="5.500" height="11" rx="1" fill="#f0f8ff"/><rect x="39.200" y="172" width="1.200" height="7" fill="#f0f8ff"/>
    <circle cx="78.300" cy="183.800" r="1.800" fill="#fff"/>
    <g fill="#e6e8f2" opacity="0.6">
      <rect x="19.500" y="114" width="30" height="2.600" rx="1"/>
      <rect x="60" y="114" width="37" height="2.600" rx="1"/>
      <rect x="21.500" y="156.200" width="26.500" height="2.500" rx="1"/><rect x="25" y="162" width="20" height="2.500" rx="1"/>
      <rect x="67" y="156.200" width="23" height="2.500" rx="1"/><rect x="68" y="162" width="21" height="2.500" rx="1"/>
      <rect x="28.500" y="202.200" width="12" height="2.600" rx="1"/>
      <rect x="60" y="202.200" width="37" height="2.600" rx="1"/>
    </g>
    <circle cx="53.400" cy="212.300" r="1" fill="#e8e8f4"/><circle cx="59" cy="212.300" r="1" fill="#e8e8f4"/>
  </g>
</defs>
<use href="#dev" x="859.400" y="904.400" filter="url(#b1)"/>
<!-- DEVICE_L -->
<!-- CAR -->
<g id="car">
<ellipse cx="412" cy="1004" rx="68" ry="6.5" fill="#1a1a1a" filter="url(#b3)"/>
<g filter="url(#b1)">
<path d="M308.4 918.0L325.1 913.4L400.3 914.2L433.7 935.7L467.1 945.1L481.7 957.7L488.0 978.5L486.9 993.2L475.4 998.4L368.9 1000.5L341.8 999.4L312.5 993.2L311.5 957.7L312.5 936.8Z" fill="#c4161c"/>
<path d="M308.4 918.0L325.1 913.4L400.3 914.2L408.6 918.4L327.2 917.6L310.4 921.1Z" fill="#8e0e12"/>
<path d="M331.3 919.0L400.3 918.0L427.4 935.9L335.9 937.4Z" fill="#d9d9de"/>
<path d="M362.7 919.6L400.3 918.4L425.3 935.5L391.9 935.9L385.6 922.2Z" fill="#a9a9b0"/>
<path d="M333.4 920.1L360.6 919.6L368.9 926.3L358.5 935.9L336.5 936.8Z" fill="#ececf0"/>
<path d="M400.3 918.0L427.8 936.4" stroke="#3a1010" stroke-width="2" fill="none"/>
<path d="M383.5 921.1L389.8 935.9" stroke="#4a1414" stroke-width="1.6" fill="none"/>
<path d="M310.0 920.5L325.5 919.0L328.0 939.5L315.0 935.9Z" fill="#cfcfd4"/>
<path d="M312.9 934.7L321.9 933.8L323.0 939.9L314.6 940.5Z" fill="#b0141a"/>
<path d="M352.2 948.9L391.9 943.5L433.7 937.8L467.1 946.2L425.3 944.1L389.8 949.7L362.7 955.6Z" fill="#e0353a"/>
<path d="M417.0 965.6L483.8 964.3L488.0 978.5L486.9 993.2L475.4 998.4L368.9 1000.5L362.7 978.5L371.0 968.1Z" fill="#a81218"/>
<path d="M373.1 971.2L483.8 968.1L484.8 977.5L408.6 978.5L383.5 975.4Z" fill="#c81a20"/>
<path d="M409.6 981.0L477.5 979.6L477.9 992.1L417.0 994.8L408.6 987.9Z" fill="#1c1214"/>
<path d="M380.4 979.6L398.2 981.7L395.0 993.2L378.3 992.1Z" fill="#1c1214"/>
<path d="M482.7 977.5L487.6 976.5L486.9 987.9L483.4 989.0Z" fill="#1c1214"/>
<path d="M377.3 995.3L404.4 996.1L404.4 998.6L377.7 997.8Z" fill="#e86068"/>
<path d="M314.6 944.1L337.6 951.4L339.7 956.6L314.6 949.7Z" fill="#e8484e"/>
<ellipse cx="348" cy="983" rx="16.500" ry="24.500" fill="#18181a"/>
<ellipse cx="347" cy="982.500" rx="13.500" ry="21.500" fill="#cfcfd2"/>
<ellipse cx="347" cy="982.500" rx="11" ry="18.500" fill="#48484c"/>
<g stroke="#e2e2e6" stroke-width="2.200"><path d="M347 964V1001M336.500 976L357.500 989M336.500 989L357.500 976M340 967L354 998M354 967L340 998"/></g>
<ellipse cx="347" cy="982.500" rx="3" ry="4" fill="#e8e8ea"/>
<path d="M449.3 998.4L477.5 996.9L473.4 1002.6L454.6 1003.6Z" fill="#101012"/>
</g>
<ellipse cx="392" cy="960" rx="22" ry="7.500" fill="#ffffff" filter="url(#b2)" transform="rotate(6 392 960)"/>
<ellipse cx="392" cy="960" rx="27" ry="11" fill="#ffd8d8" opacity="0.55" filter="url(#b3)"/>
<ellipse cx="474" cy="959" rx="9" ry="6" fill="#ffffff" filter="url(#b2)"/>
<ellipse cx="474" cy="959" rx="13" ry="9" fill="#ffd8d8" opacity="0.5" filter="url(#b3)"/>
<path d="M485.9 967.1L508.9 987.9L516.2 984.8L502.6 1005.7L538.1 978.5L512.0 1015.1L537.1 1000.5L531.8 1008.8L551.7 1028.7" stroke="#2cb2da" stroke-width="2" fill="none" stroke-linejoin="miter" filter="url(#b1)"/>
</g>
<use href="#dev" x="202" y="918.200" filter="url(#b1)"/>
<!-- OBD -->
<g id="obd" filter="url(#b1)">
<defs><linearGradient id="gOb" x1="0" y1="0" x2="1" y2="0"><stop offset="0" stop-color="#4a4a4c"/><stop offset="0.12" stop-color="#6a6a6c"/><stop offset="0.25" stop-color="#3a3a3c"/><stop offset="0.75" stop-color="#3a3a3c"/><stop offset="0.88" stop-color="#68686a"/><stop offset="1" stop-color="#4a4a4c"/></linearGradient></defs>
<path d="M325.4 1018.2L386.1 1018.2L386.1 1040.0L325.4 1040.0Z" fill="#2d2d2f"/>
<path d="M325.4 1018.2L329.4 1018.2L329.4 1040.0L325.4 1040.0Z" fill="#4e4e50"/>
<path d="M382.8 1018.2L386.1 1018.2L386.1 1040.0L382.8 1040.0Z" fill="#4e4e50"/>
<rect x="320.800" y="1038.600" width="70.600" height="112" rx="7" fill="url(#gOb)"/>
<path d="M320.8 1040.6L391.4 1040.6L391.4 1057.1L384.1 1063.0L327.4 1063.0L320.8 1057.1Z" fill="#2c2c2e"/>
<path d="M320.8 1131.6L327.4 1123.7L384.1 1123.7L391.4 1131.6L391.4 1144.8L386.8 1150.1L326.1 1150.1L320.8 1144.8Z" fill="#2e2e30"/>
<path d="M338.0 1038.6L374.9 1038.6L374.9 1150.7L338.0 1150.7Z" fill="#ee2a22"/>
<path d="M342.6 1150.7 A13.800 11 0 0 1 370.3 1150.7 Z" fill="#f4efef"/>
<path d="M343.5 1058.0L368.6 1058.0L368.6 1078.9L356.4 1086.5L343.5 1078.9Z" fill="#28282a" stroke="#f08078" stroke-width="1"/>
<rect x="343.200" y="1101" width="25.800" height="3.200" fill="#fff" opacity="0.92"/>
<path d="M355.8 1114.5L355.8 1130.3" stroke="#f8b0a8" stroke-width="1.600" fill="none"/>
<path d="M353.5 1117.1L358.0 1117.1" stroke="#f8b0a8" stroke-width="1.300" fill="none"/>
<path d="M353.3 1129.6L355.8 1125.7L358.3 1129.6" stroke="#f8b0a8" stroke-width="1.300" fill="none"/>
</g>
<!-- HAND -->
<g id="hand">
<defs>
<linearGradient id="gFade" gradientUnits="userSpaceOnUse" x1="722" y1="0" x2="768" y2="0"><stop offset="0" stop-color="#fff" stop-opacity="0"/><stop offset="1" stop-color="#fff" stop-opacity="1"/></linearGradient>
<linearGradient id="gHK" gradientUnits="userSpaceOnUse" x1="540" y1="1030" x2="640" y2="1150"><stop offset="0" stop-color="#b9bbc0"/><stop offset="0.4" stop-color="#a2a4aa"/><stop offset="1" stop-color="#c4c4c8"/></linearGradient>
</defs>
<g filter="url(#b2)">
<path d="M548.9 1138.6 C556.1 1127.7 575.4 1130.1 592.3 1142.2 L664.6 1154.2 L763.4 1144.6 L763.4 1195.7 L616.4 1195.7 C592.3 1190.4 544.1 1163.9 548.9 1138.6 Z" fill="#ecb29c"/>
<path d="M550.1 1141.0L568.2 1134.9L592.3 1147.0L621.2 1163.9L611.6 1190.4L580.2 1178.3L553.7 1159.0Z" fill="#e9907c"/>
<path d="M621.2 1163.9L688.7 1166.3L693.5 1190.4L616.4 1192.8Z" fill="#e9a48f"/>
</g>
<g filter="url(#b3)">
<path d="M575.4 1154.2L606.7 1166.3L609.2 1185.5L582.7 1175.9Z" fill="#e27e6c"/>
<path d="M635.7 1154.2L688.7 1144.6L703.1 1159.0L688.7 1173.5L645.3 1166.3Z" fill="#d89078"/>
<path d="M556.1 1138.6L575.4 1136.1L580.2 1147.0L561.0 1147.0Z" fill="#f6d9ca"/>
</g>
<g filter="url(#b1)">
<path d="M555.4 1023.8 Q561.1 1015.1 572.7 1016.6 L587.2 1021.2 L653.7 1055.6 L678.2 1114.9 L680.4 1127.9 L626.2 1156.1 L603.1 1148.8 Q592.9 1140.9 588.6 1134.4 L539.5 1090.3 Q532.2 1072.9 537.3 1059.9 Z" fill="#b7b9be"/>
<path d="M539.5 1086.0L592.9 1132.2L606.0 1136.8L676.8 1114.9L680.4 1127.9L626.2 1156.1L603.1 1148.8L588.6 1134.4L539.5 1090.3Z" fill="#c9cacf"/>
<path d="M606.0 1137.3L676.8 1115.6L678.5 1120.7L611.7 1143.8Z" fill="#9c9ea6"/>
<path d="M542.3 1091.7L590.1 1133.7L592.9 1140.9L588.6 1134.4Z" fill="#e2e3e8"/>
<path d="M574.9 1127.9L582.1 1132.2L584.3 1137.3L577.0 1132.9Z" fill="#3a2a2a"/>
<path d="M558.3 1025.2L568.4 1018.7L585.7 1022.3L559.0 1062.8L560.4 1072.9L606.0 1127.9L592.9 1132.2L539.5 1086.0L535.8 1067.2Z" fill="#c4c6cb"/>
<path d="M585.7 1022.3L652.2 1056.3L669.6 1110.5L614.6 1129.6L606.0 1127.9L560.4 1072.9L559.0 1062.8Z" fill="#222326"/>
<path d="M582.8 1030.3L645.0 1062.8L655.1 1086.0L629.1 1112.3L606.0 1120.9L564.8 1071.8L564.0 1061.7Z" fill="#c6c9cf"/>
<path d="M572.7 1048.4L585.7 1042.6L617.5 1057.0L634.9 1065.7L611.7 1072.9L587.2 1059.9L568.4 1068.6L566.2 1061.4Z" fill="#e4e6ea"/>
<path d="M567.2 1072.9L578.5 1065.0L585.7 1072.9L606.7 1074.7L580.2 1088.9Z" fill="#f3f3f5"/>
<path d="M581.7 1091.7L610.3 1077.0L617.5 1086.0L620.4 1097.5L592.9 1105.0Z" fill="#f5f5f7"/>
<path d="M595.8 1107.9L620.4 1099.0L629.1 1112.3L607.7 1121.8Z" fill="#f7f7f9"/>
<ellipse cx="594.4" cy="1065.7" rx="14.500" ry="9.200" fill="#a4a8b2" transform="rotate(12 594 1066)"/>
<ellipse cx="592.9" cy="1068.6" rx="9" ry="5" fill="#d9dce2" transform="rotate(12 594 1066)"/>
<path d="M564.3 1070.3L575.6 1063.1" stroke="#2a2b2e" stroke-width="2.600" fill="none"/>
<path d="M579.6 1090.0L609.1 1073.8" stroke="#2a2b2e" stroke-width="2.800" fill="none"/>
<path d="M592.2 1106.5L612.0 1097.5" stroke="#2a2b2e" stroke-width="2.800" fill="none"/>
<path d="M608.1 1122.4L629.8 1112.7L669.6 1106.2L669.6 1110.5L614.6 1129.6Z" fill="#2c2c30"/>
</g>
<g filter="url(#b2)">
<path d="M608.0 1083.1 C611.6 1072.3 633.3 1065.1 654.9 1056.6 C676.6 1049.4 700.7 1041.0 720.0 1042.9 L763.4 1048.2 L763.4 1195.7 L703.1 1195.7 C688.7 1168.7 674.2 1134.9 669.4 1112.0 C654.9 1113.3 626.0 1108.4 614.0 1100.0 Z" fill="#f3cbb6"/>
<path d="M609.2 1081.9L621.2 1074.7L633.3 1079.5L626.0 1091.6L614.0 1096.4Z" fill="#f7dfd2"/>
</g>
<g filter="url(#b3)">
<path d="M616.4 1101.2L645.3 1106.0L674.2 1108.4L679.0 1125.3L669.4 1113.3L640.5 1112.0Z" fill="#edb7a0"/>
<path d="M674.2 1072.3L712.8 1055.4L736.9 1072.3L727.2 1120.5L693.5 1115.7L676.6 1096.4Z" fill="#f8e2d8"/>
<path d="M679.0 1134.9L703.1 1154.2L712.8 1192.8L693.5 1192.8L686.3 1163.9Z" fill="#eeb8a2"/>
</g>
<rect x="690" y="1030" width="90" height="175" fill="url(#gFade)"/>
<path d="M741 1077.500H766" stroke="#cfcfcf" stroke-width="1.500" opacity="0.7" filter="url(#b1)"/>
</g>
</svg>
</body>
</html>
